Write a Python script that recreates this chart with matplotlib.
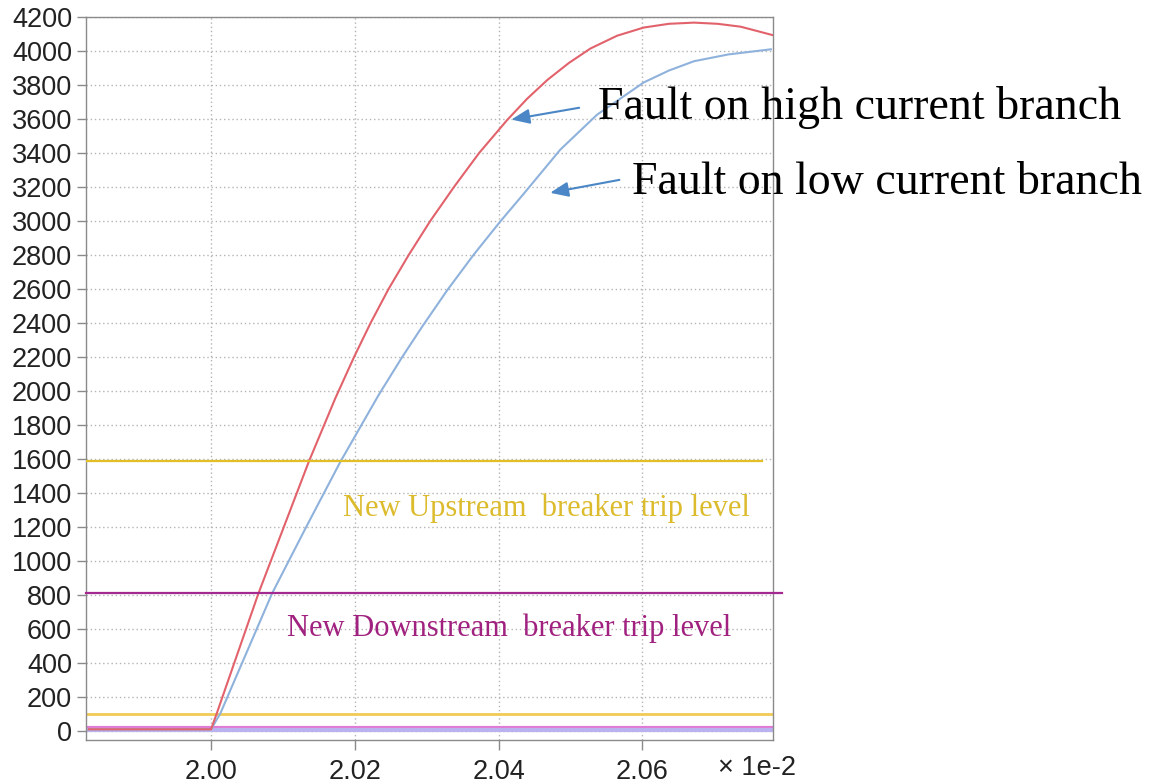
import matplotlib.pyplot as plt
import numpy as np

# time axis in units of 1e-2 s
t_high = [1.983, 2.000, 2.0008, 2.0066, 2.0136, 2.0173, 2.0199, 2.0222, 2.0247,
          2.0275, 2.0305, 2.0338, 2.0373, 2.0412, 2.0440, 2.0468, 2.0498, 2.0528,
          2.0565, 2.0602, 2.0637, 2.0672, 2.0705, 2.0737, 2.0781]
i_high = [10, 10, 104, 810, 1584, 1958, 2200, 2400, 2600,
          2800, 3000, 3200, 3400, 3594, 3720, 3830, 3930, 4015,
          4090, 4138, 4160, 4167, 4160, 4143, 4094]

t_low = [1.983, 2.000, 2.0013, 2.0085, 2.0133, 2.0180, 2.0233, 2.0266, 2.0294,
         2.0329, 2.0366, 2.0403, 2.0435, 2.0486, 2.0537, 2.0602, 2.0637, 2.0672,
         2.0720, 2.0779]
i_low = [10, 10, 104, 810, 1205, 1584, 1975, 2200, 2380,
         2595, 2805, 3000, 3160, 3420, 3625, 3815, 3885, 3940,
         3980, 4010]

upstream_trip = 1590
downstream_trip = 810
old_trip = 100
base_levels = [18, 3]

x_ticks = [2.00, 2.02, 2.04, 2.06]
y_ticks = list(range(0, 4201, 200))

fig = plt.figure(figsize=(11.54, 7.84), dpi=100)
ax = fig.add_axes([0.0745, 0.0561, 0.5954, 0.9222])

grid_style = dict(color='#b4b4b4', linestyle=(0, (1, 2)), linewidth=1.0)
ax.set_axisbelow(True)
ax.grid(True, **grid_style)

# levels near zero
ax.axhline(base_levels[0], color='#e27ad4', lw=3, zorder=2)
ax.axhline(base_levels[1], color='#b9b2ee', lw=3, zorder=2)
ax.axhline(old_trip, color='#f0cc55', lw=2, zorder=2)

# curves
ax.plot(t_low, i_low, color='#8fb2dc', lw=1.5, zorder=3)
ax.plot(t_high, i_high, color='#e2626c', lw=1.5, zorder=4)

# trip levels
ax.axhline(upstream_trip, xmin=0, xmax=0.984, color='#e3bf25', lw=1.6, zorder=5)
ax.axhline(downstream_trip, xmin=0, xmax=1.013, color='#a3288f', lw=1.6,
           zorder=5, clip_on=False)

ax.text(2.0184, 1312, 'New Upstream  breaker trip level', color='#dcbb2c',
        fontsize=22, family='Liberation Serif', va='center', ha='left')
ax.text(2.0106, 606, 'New Downstream  breaker trip level', color='#a0217f',
        fontsize=22, family='Liberation Serif', va='center', ha='left')

# arrows and labels
arr = dict(arrowstyle='-|>,head_length=1.1,head_width=0.45', color='#4b87c6', lw=1.5)
ax.annotate('', xy=(2.0414, 3594), xytext=(2.0516, 3669), arrowprops=arr,
            annotation_clip=False)
ax.annotate('', xy=(2.0468, 3163), xytext=(2.0572, 3245), arrowprops=arr,
            annotation_clip=False)
ax.text(2.0539, 3670, 'Fault on high current branch', color='black',
        fontsize=33, family='Liberation Serif', va='center', ha='left',
        clip_on=False, zorder=6)
ax.text(2.0586, 3223, 'Fault on low current branch', color='black',
        fontsize=33, family='Liberation Serif', va='center', ha='left',
        clip_on=False, zorder=6)

ax.set_xlim(1.9826, 2.0782)
ax.set_ylim(-53, 4200)
ax.set_xticks(x_ticks)
ax.set_xticklabels(['%.2f' % x for x in x_ticks])
ax.set_yticks(y_ticks)
ax.set_yticklabels([str(y) for y in y_ticks])

for s in ax.spines.values():
    s.set_color('#8a8a8a')
    s.set_linewidth(1.0)

ax.tick_params(axis='y', length=6.5, width=1, color='#8a8a8a', pad=3.5,
               labelsize=19.5, labelcolor='#222222')
ax.tick_params(axis='x', length=7.5, width=1, color='#8a8a8a', pad=6,
               labelsize=19.5, labelcolor='#222222')
for lab in ax.get_xticklabels() + ax.get_yticklabels():
    lab.set_family('Liberation Sans')

ax.text(0.92, -0.0387, '\u00d7 1e-2', transform=ax.transAxes, fontsize=19.5,
        family='Liberation Sans', color='#222222', va='center', ha='left')

fig.savefig('out.png', dpi=100)
